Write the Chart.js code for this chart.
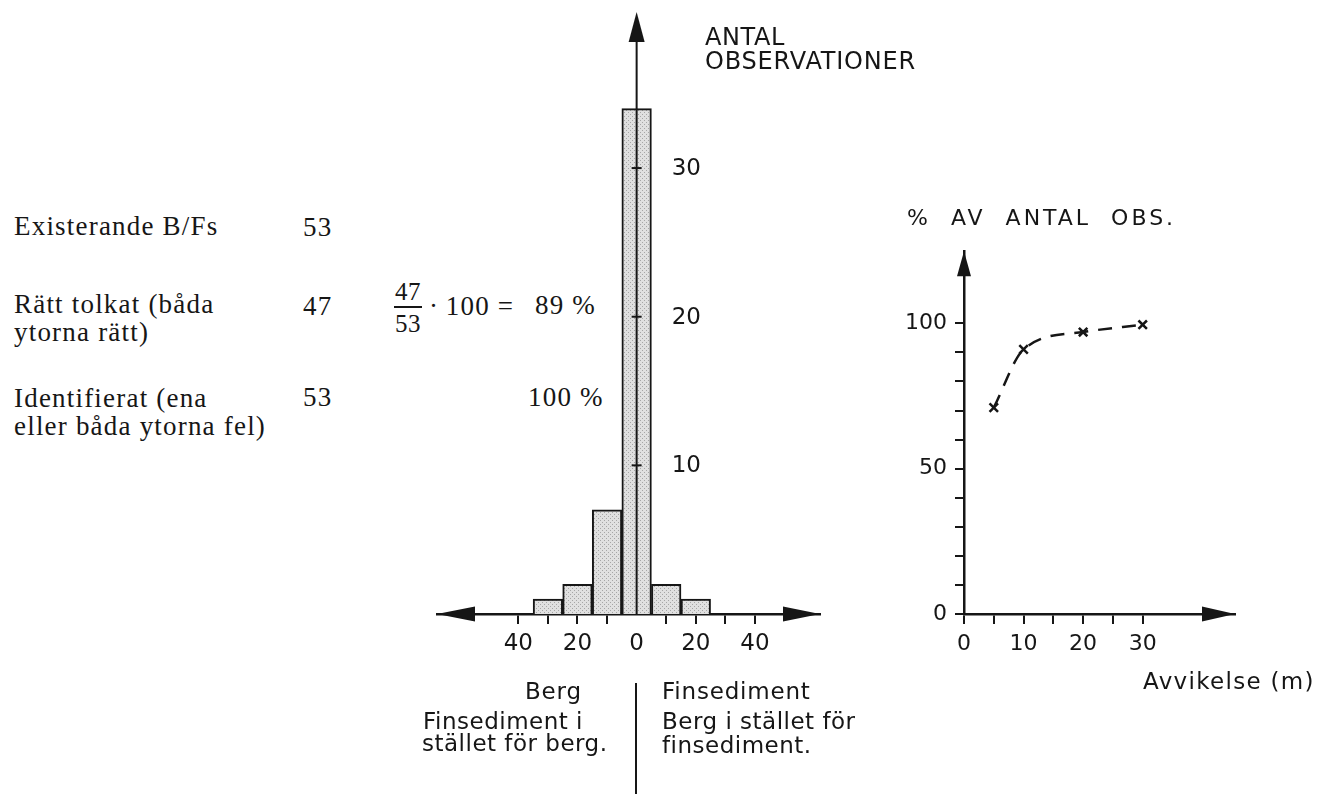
<!DOCTYPE html>
<html lang="sv">
<head>
<meta charset="utf-8">
<title>Avvikelse B/Fs</title>
<script src="https://cdn.jsdelivr.net/npm/chart.js@4.4.1/dist/chart.umd.min.js"></script>
<style>
  html, body { margin: 0; padding: 0; background: #fff; }
  body { width: 1318px; height: 794px; position: relative; overflow: hidden; }
  canvas { position: absolute; }
  .t { position: absolute; white-space: nowrap; color: #161616; }
  .serif { font-family: "Liberation Serif", "Times New Roman", serif; font-size: 27px; line-height: 28px; letter-spacing: 1.2px; }
  .sans { font-family: "DejaVu Sans", sans-serif; font-size: 23px; line-height: 28px; letter-spacing: 0.8px; }
  .rule { position: absolute; background: #161616; }
</style>
</head>
<body>

<!-- summary table -->
<div class="t serif" style="left:14px;top:212px">Existerande B/Fs</div>
<div class="t serif" style="left:303px;top:213px">53</div>

<div class="t serif" style="left:14px;top:290px">Rätt tolkat (båda</div>
<div class="t serif" style="left:14px;top:318px">ytorna rätt)</div>
<div class="t serif" style="left:303px;top:292px">47</div>
<div class="t serif" style="left:395px;top:278px;font-size:25px;letter-spacing:0.5px">47</div>
<div class="rule" style="left:394px;top:306px;width:28px;height:1.5px"></div>
<div class="t serif" style="left:395px;top:310px;font-size:25px;letter-spacing:0.5px">53</div>
<div class="t serif" style="left:429px;top:292px">·&#8201;100 =</div>
<div class="t serif" style="left:535px;top:291px">89 %</div>

<div class="t serif" style="left:14px;top:384px">Identifierat (ena</div>
<div class="t serif" style="left:14px;top:412px">eller båda ytorna fel)</div>
<div class="t serif" style="left:303px;top:383px">53</div>
<div class="t serif" style="left:528px;top:383px">100 %</div>

<!-- histogram -->
<canvas id="hist" width="460" height="680" style="left:400px;top:0px"></canvas>
<div class="t sans" style="left:705px;top:23px;font-size:24px;letter-spacing:0.6px">ANTAL</div>
<div class="t sans" style="left:705px;top:47px;font-size:24px;letter-spacing:0.8px">OBSERVATIONER</div>

<div class="t sans" style="left:525px;top:677px">Berg</div>
<div class="t sans" style="left:423px;top:707px;letter-spacing:0.5px">Finsediment i</div>
<div class="t sans" style="left:422px;top:729px;letter-spacing:0.5px">stället för berg.</div>
<div class="rule" style="left:635px;top:683px;width:2px;height:111px"></div>
<div class="t sans" style="left:662px;top:677px">Finsediment</div>
<div class="t sans" style="left:662px;top:707px;letter-spacing:0.5px">Berg i stället för</div>
<div class="t sans" style="left:662px;top:731px;letter-spacing:0.5px">finsediment.</div>

<!-- cumulative share -->
<canvas id="cum" width="420" height="440" style="left:880px;top:230px"></canvas>
<div class="t sans" style="left:907px;top:204px;font-size:22px;letter-spacing:3px;word-spacing:10px">% AV ANTAL OBS.</div>
<div class="t sans" style="left:1143px;top:667px;letter-spacing:1.3px">Avvikelse (m)</div>

<script>
// Histogram: number of observations per 10 m deviation class
// (negative = Berg side, positive = Finsediment side)
const binCenters = [-30, -20, -10, 0, 10, 20];
const counts = [1, 2, 7, 34, 2, 1];

const histXTicks = [-40, -30, -20, -10, 0, 10, 20, 30, 40];
const histXLabels = ['40', '', '20', '', '0', '', '20', '', '40'];
const histYTicks = [10, 20, 30];
const histYLabels = ['10', '20', '30'];

// Cumulative share of observations within a given deviation
const deviation = [5, 10, 20, 30];
const percent = [71, 91, 97, 99.5];

const cumXTicks = [0, 5, 10, 15, 20, 25, 30];
const cumXLabels = ['0', '', '10', '', '20', '', '30'];
const cumYTicks = [0, 10, 20, 30, 40, 50, 60, 70, 80, 90, 100];
const cumYLabels = ['0', '', '', '', '', '50', '', '', '', '', '100'];

const INK = '#161616';
Chart.defaults.font.family = '"DejaVu Sans", sans-serif';
Chart.defaults.color = INK;

// Fine dotted grey screen for the bars
function screenTone() {
  const c = document.createElement('canvas');
  c.width = 4; c.height = 4;
  const g = c.getContext('2d');
  g.fillStyle = '#e0e0e0';
  g.fillRect(0, 0, 4, 4);
  g.fillStyle = '#a6a6a6';
  g.fillRect(0, 0, 1, 1);
  g.fillRect(2, 2, 1, 1);
  return g.createPattern(c, 'repeat');
}

function arrowHead(ctx, tx, ty, dir, len, half) {
  ctx.beginPath();
  ctx.moveTo(tx, ty);
  if (dir === 'up') { ctx.lineTo(tx - half, ty + len); ctx.lineTo(tx + half, ty + len); }
  else if (dir === 'right') { ctx.lineTo(tx - len, ty - half); ctx.lineTo(tx - len, ty + half); }
  else { ctx.lineTo(tx + len, ty - half); ctx.lineTo(tx + len, ty + half); }
  ctx.closePath();
  ctx.fill();
}

// Axis arrows drawn at the ends of the scales
const arrows = {
  id: 'arrows',
  afterDraw(chart, args, opts) {
    const { ctx, chartArea: a, scales } = chart;
    const x0 = scales.x.getPixelForValue(0);
    const y0 = scales.y.getPixelForValue(0);
    ctx.save();
    ctx.fillStyle = INK;
    (opts.heads || []).forEach(h => {
      if (h.dir === 'up') arrowHead(ctx, x0, a.top, 'up', h.len, h.half);
      if (h.dir === 'right') arrowHead(ctx, a.right, y0, 'right', h.len, h.half);
      if (h.dir === 'left') arrowHead(ctx, a.left, y0, 'left', h.len, h.half);
    });
    ctx.restore();
  }
};

// Central count axis of the histogram, standing at deviation 0
const centreAxis = {
  id: 'centreAxis',
  afterDatasetsDraw(chart) {
    const { ctx, chartArea: a, scales: { x, y } } = chart;
    const x0 = x.getPixelForValue(0);
    ctx.save();
    ctx.strokeStyle = INK;
    ctx.lineWidth = 2;
    ctx.beginPath();
    ctx.moveTo(x0, y.getPixelForValue(0) + 1);
    ctx.lineTo(x0, a.top + 12);
    ctx.stroke();
    ctx.font = '23px "DejaVu Sans", sans-serif';
    ctx.fillStyle = INK;
    ctx.textAlign = 'left';
    ctx.textBaseline = 'middle';
    histYTicks.forEach((v, i) => {
      const py = y.getPixelForValue(v);
      ctx.beginPath();
      ctx.moveTo(x0 - 5, py);
      ctx.lineTo(x0 + 5, py);
      ctx.stroke();
      ctx.fillText(histYLabels[i], x0 + 35, py + 1);
    });
    ctx.restore();
  }
};

new Chart(document.getElementById('hist'), {
  type: 'bar',
  data: {
    datasets: [{
      data: binCenters.map((c, i) => ({ x: c, y: counts[i] })),
      backgroundColor: screenTone(),
      borderColor: INK,
      borderWidth: 2,
      borderSkipped: 'bottom',
      barPercentage: 1,
      categoryPercentage: 1
    }]
  },
  options: {
    responsive: false,
    animation: false,
    events: [],
    layout: { padding: { left: 37, right: 40, top: 12, bottom: 16 } },
    plugins: {
      legend: { display: false },
      tooltip: { enabled: false },
      arrows: { heads: [
        { dir: 'up', len: 30, half: 8 },
        { dir: 'left', len: 38, half: 7.5 },
        { dir: 'right', len: 37, half: 7.5 }
      ] }
    },
    scales: {
      x: {
        type: 'linear',
        min: -67.5,
        max: 62,
        offset: false,
        z: 1,
        afterBuildTicks: s => { s.ticks = histXTicks.map(v => ({ value: v })); },
        afterFit: s => { s.height = 50; },
        grid: {
          offset: false,
          drawOnChartArea: false,
          drawTicks: true,
          tickLength: 10,
          lineWidth: 2,
          color: c => (c.tick && c.tick.value === 0) ? 'rgba(0,0,0,0)' : INK
        },
        border: { display: true, color: INK, width: 2.5 },
        ticks: {
          autoSkip: false,
          maxRotation: 0,
          padding: 6,
          font: { size: 23 },
          color: INK,
          callback: (v, i) => histXLabels[i]
        }
      },
      y: {
        display: false,
        min: 0,
        max: 40.5
      }
    }
  },
  plugins: [centreAxis, arrows]
});

new Chart(document.getElementById('cum'), {
  type: 'line',
  data: {
    datasets: [{
      data: deviation.map((d, i) => ({ x: d, y: percent[i] })),
      borderColor: INK,
      borderWidth: 2.5,
      borderDash: [14, 10],
      cubicInterpolationMode: 'monotone',
      fill: false,
      pointStyle: 'crossRot',
      pointRadius: 6,
      pointBorderWidth: 2.5,
      pointBorderColor: INK,
      pointBackgroundColor: INK
    }]
  },
  options: {
    responsive: false,
    animation: false,
    events: [],
    layout: { padding: { left: 20, right: 65, top: 12, bottom: 6 } },
    plugins: {
      legend: { display: false },
      tooltip: { enabled: false },
      arrows: { heads: [
        { dir: 'up', len: 25, half: 7 },
        { dir: 'right', len: 33, half: 7.5 }
      ] }
    },
    scales: {
      x: {
        type: 'linear',
        min: 0,
        max: 45.5,
        afterBuildTicks: s => { s.ticks = cumXTicks.map(v => ({ value: v })); },
        afterFit: s => { s.height = 50; },
        grid: { drawOnChartArea: false, drawTicks: true, tickLength: 10, lineWidth: 2, color: INK },
        border: { color: INK, width: 2.5 },
        ticks: {
          autoSkip: false,
          maxRotation: 0,
          padding: 7,
          font: { size: 22 },
          color: INK,
          callback: (v, i) => cumXLabels[i]
        }
      },
      y: {
        type: 'linear',
        min: 0,
        max: 124.8,
        afterBuildTicks: s => { s.ticks = cumYTicks.map(v => ({ value: v })); },
        afterFit: s => { s.width = 64; },
        grid: { drawOnChartArea: false, drawTicks: true, tickLength: 9, lineWidth: 2, color: INK },
        border: { color: INK, width: 2.5 },
        ticks: {
          autoSkip: false,
          padding: 8,
          font: { size: 22 },
          color: INK,
          callback: (v, i) => cumYLabels[i]
        }
      }
    }
  },
  plugins: [arrows]
});
</script>
</body>
</html>
